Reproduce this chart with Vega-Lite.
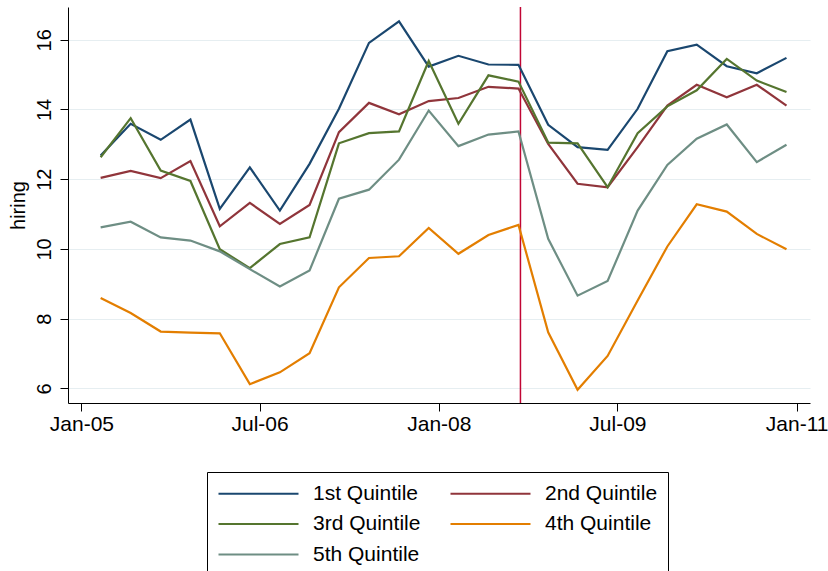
{
  "$schema": "https://vega.github.io/schema/vega-lite/v6.json",
  "width": 742,
  "height": 396,
  "autosize": "none",
  "padding": {"left": 68, "top": 7, "right": 18, "bottom": 168},
  "background": "white",
  "config": {
    "view": {"stroke": null},
    "font": "Liberation Sans",
    "axis": {
      "domainColor": "black",
      "domainWidth": 1,
      "tickColor": "black",
      "tickWidth": 1,
      "tickSize": 8,
      "labelColor": "black",
      "labelFont": "Liberation Sans",
      "titleFont": "Liberation Sans",
      "titleColor": "black",
      "titleFontWeight": "normal"
    },
    "legend": {
      "orient": "none",
      "legendX": 139,
      "legendY": 465,
      "direction": "horizontal",
      "columns": 2,
      "symbolType": "M-1,0H7",
      "symbolSize": 400,
      "symbolStrokeWidth": 2.2,
      "labelFont": "Liberation Sans",
      "labelFontSize": 21,
      "labelColor": "black",
      "labelOffset": 73,
      "columnPadding": 25,
      "rowPadding": 8.5,
      "padding": 10,
      "strokeColor": "black",
      "strokeWidth": 1,
      "fillColor": "white"
    }
  },
  "layer": [
    {
      "data": {"values": [{"date": "2008/09/07"}]},
      "mark": {"type": "rule", "color": "#c10534", "strokeWidth": 1.5},
      "encoding": {
        "x": {"field": "date", "type": "temporal"}
      }
    },
    {
      "data": {
        "values": [
          {"date": "2005/03/01", "quintile": "1st Quintile", "hiring": 12.68},
          {"date": "2005/06/01", "quintile": "1st Quintile", "hiring": 13.59},
          {"date": "2005/09/01", "quintile": "1st Quintile", "hiring": 13.13},
          {"date": "2005/12/01", "quintile": "1st Quintile", "hiring": 13.71},
          {"date": "2006/03/01", "quintile": "1st Quintile", "hiring": 11.15},
          {"date": "2006/06/01", "quintile": "1st Quintile", "hiring": 12.34},
          {"date": "2006/09/01", "quintile": "1st Quintile", "hiring": 11.10},
          {"date": "2006/12/01", "quintile": "1st Quintile", "hiring": 12.44},
          {"date": "2007/03/01", "quintile": "1st Quintile", "hiring": 14.02},
          {"date": "2007/06/01", "quintile": "1st Quintile", "hiring": 15.91},
          {"date": "2007/09/01", "quintile": "1st Quintile", "hiring": 16.53},
          {"date": "2007/12/01", "quintile": "1st Quintile", "hiring": 15.23},
          {"date": "2008/03/01", "quintile": "1st Quintile", "hiring": 15.54},
          {"date": "2008/06/01", "quintile": "1st Quintile", "hiring": 15.29},
          {"date": "2008/09/01", "quintile": "1st Quintile", "hiring": 15.28},
          {"date": "2008/12/01", "quintile": "1st Quintile", "hiring": 13.56},
          {"date": "2009/03/01", "quintile": "1st Quintile", "hiring": 12.92},
          {"date": "2009/06/01", "quintile": "1st Quintile", "hiring": 12.84},
          {"date": "2009/09/01", "quintile": "1st Quintile", "hiring": 14.02},
          {"date": "2009/12/01", "quintile": "1st Quintile", "hiring": 15.67},
          {"date": "2010/03/01", "quintile": "1st Quintile", "hiring": 15.86},
          {"date": "2010/06/01", "quintile": "1st Quintile", "hiring": 15.24},
          {"date": "2010/09/01", "quintile": "1st Quintile", "hiring": 15.04},
          {"date": "2010/12/01", "quintile": "1st Quintile", "hiring": 15.48},

          {"date": "2005/03/01", "quintile": "2nd Quintile", "hiring": 12.04},
          {"date": "2005/06/01", "quintile": "2nd Quintile", "hiring": 12.24},
          {"date": "2005/09/01", "quintile": "2nd Quintile", "hiring": 12.03},
          {"date": "2005/12/01", "quintile": "2nd Quintile", "hiring": 12.52},
          {"date": "2006/03/01", "quintile": "2nd Quintile", "hiring": 10.65},
          {"date": "2006/06/01", "quintile": "2nd Quintile", "hiring": 11.32},
          {"date": "2006/09/01", "quintile": "2nd Quintile", "hiring": 10.72},
          {"date": "2006/12/01", "quintile": "2nd Quintile", "hiring": 11.26},
          {"date": "2007/03/01", "quintile": "2nd Quintile", "hiring": 13.35},
          {"date": "2007/06/01", "quintile": "2nd Quintile", "hiring": 14.19},
          {"date": "2007/09/01", "quintile": "2nd Quintile", "hiring": 13.86},
          {"date": "2007/12/01", "quintile": "2nd Quintile", "hiring": 14.24},
          {"date": "2008/03/01", "quintile": "2nd Quintile", "hiring": 14.33},
          {"date": "2008/06/01", "quintile": "2nd Quintile", "hiring": 14.65},
          {"date": "2008/09/01", "quintile": "2nd Quintile", "hiring": 14.60},
          {"date": "2008/12/01", "quintile": "2nd Quintile", "hiring": 13.01},
          {"date": "2009/03/01", "quintile": "2nd Quintile", "hiring": 11.87},
          {"date": "2009/06/01", "quintile": "2nd Quintile", "hiring": 11.77},
          {"date": "2009/09/01", "quintile": "2nd Quintile", "hiring": 12.92},
          {"date": "2009/12/01", "quintile": "2nd Quintile", "hiring": 14.11},
          {"date": "2010/03/01", "quintile": "2nd Quintile", "hiring": 14.71},
          {"date": "2010/06/01", "quintile": "2nd Quintile", "hiring": 14.35},
          {"date": "2010/09/01", "quintile": "2nd Quintile", "hiring": 14.71},
          {"date": "2010/12/01", "quintile": "2nd Quintile", "hiring": 14.11},

          {"date": "2005/03/01", "quintile": "3rd Quintile", "hiring": 12.63},
          {"date": "2005/06/01", "quintile": "3rd Quintile", "hiring": 13.75},
          {"date": "2005/09/01", "quintile": "3rd Quintile", "hiring": 12.25},
          {"date": "2005/12/01", "quintile": "3rd Quintile", "hiring": 11.95},
          {"date": "2006/03/01", "quintile": "3rd Quintile", "hiring": 9.99},
          {"date": "2006/06/01", "quintile": "3rd Quintile", "hiring": 9.45},
          {"date": "2006/09/01", "quintile": "3rd Quintile", "hiring": 10.14},
          {"date": "2006/12/01", "quintile": "3rd Quintile", "hiring": 10.33},
          {"date": "2007/03/01", "quintile": "3rd Quintile", "hiring": 13.03},
          {"date": "2007/06/01", "quintile": "3rd Quintile", "hiring": 13.32},
          {"date": "2007/09/01", "quintile": "3rd Quintile", "hiring": 13.37},
          {"date": "2007/12/01", "quintile": "3rd Quintile", "hiring": 15.39},
          {"date": "2008/03/01", "quintile": "3rd Quintile", "hiring": 13.59},
          {"date": "2008/06/01", "quintile": "3rd Quintile", "hiring": 14.98},
          {"date": "2008/09/01", "quintile": "3rd Quintile", "hiring": 14.80},
          {"date": "2008/12/01", "quintile": "3rd Quintile", "hiring": 13.05},
          {"date": "2009/03/01", "quintile": "3rd Quintile", "hiring": 13.03},
          {"date": "2009/06/01", "quintile": "3rd Quintile", "hiring": 11.77},
          {"date": "2009/09/01", "quintile": "3rd Quintile", "hiring": 13.32},
          {"date": "2009/12/01", "quintile": "3rd Quintile", "hiring": 14.09},
          {"date": "2010/03/01", "quintile": "3rd Quintile", "hiring": 14.55},
          {"date": "2010/06/01", "quintile": "3rd Quintile", "hiring": 15.45},
          {"date": "2010/09/01", "quintile": "3rd Quintile", "hiring": 14.83},
          {"date": "2010/12/01", "quintile": "3rd Quintile", "hiring": 14.50},

          {"date": "2005/03/01", "quintile": "4th Quintile", "hiring": 8.59},
          {"date": "2005/06/01", "quintile": "4th Quintile", "hiring": 8.16},
          {"date": "2005/09/01", "quintile": "4th Quintile", "hiring": 7.63},
          {"date": "2005/12/01", "quintile": "4th Quintile", "hiring": 7.60},
          {"date": "2006/03/01", "quintile": "4th Quintile", "hiring": 7.58},
          {"date": "2006/06/01", "quintile": "4th Quintile", "hiring": 6.12},
          {"date": "2006/09/01", "quintile": "4th Quintile", "hiring": 6.46},
          {"date": "2006/12/01", "quintile": "4th Quintile", "hiring": 7.01},
          {"date": "2007/03/01", "quintile": "4th Quintile", "hiring": 8.90},
          {"date": "2007/06/01", "quintile": "4th Quintile", "hiring": 9.74},
          {"date": "2007/09/01", "quintile": "4th Quintile", "hiring": 9.79},
          {"date": "2007/12/01", "quintile": "4th Quintile", "hiring": 10.60},
          {"date": "2008/03/01", "quintile": "4th Quintile", "hiring": 9.86},
          {"date": "2008/06/01", "quintile": "4th Quintile", "hiring": 10.40},
          {"date": "2008/09/01", "quintile": "4th Quintile", "hiring": 10.69},
          {"date": "2008/12/01", "quintile": "4th Quintile", "hiring": 7.61},
          {"date": "2009/03/01", "quintile": "4th Quintile", "hiring": 5.96},
          {"date": "2009/06/01", "quintile": "4th Quintile", "hiring": 6.93},
          {"date": "2009/09/01", "quintile": "4th Quintile", "hiring": 8.52},
          {"date": "2009/12/01", "quintile": "4th Quintile", "hiring": 10.07},
          {"date": "2010/03/01", "quintile": "4th Quintile", "hiring": 11.28},
          {"date": "2010/06/01", "quintile": "4th Quintile", "hiring": 11.07},
          {"date": "2010/09/01", "quintile": "4th Quintile", "hiring": 10.43},
          {"date": "2010/12/01", "quintile": "4th Quintile", "hiring": 9.99},

          {"date": "2005/03/01", "quintile": "5th Quintile", "hiring": 10.62},
          {"date": "2005/06/01", "quintile": "5th Quintile", "hiring": 10.78},
          {"date": "2005/09/01", "quintile": "5th Quintile", "hiring": 10.33},
          {"date": "2005/12/01", "quintile": "5th Quintile", "hiring": 10.24},
          {"date": "2006/03/01", "quintile": "5th Quintile", "hiring": 9.93},
          {"date": "2006/06/01", "quintile": "5th Quintile", "hiring": 9.42},
          {"date": "2006/09/01", "quintile": "5th Quintile", "hiring": 8.92},
          {"date": "2006/12/01", "quintile": "5th Quintile", "hiring": 9.38},
          {"date": "2007/03/01", "quintile": "5th Quintile", "hiring": 11.44},
          {"date": "2007/06/01", "quintile": "5th Quintile", "hiring": 11.70},
          {"date": "2007/09/01", "quintile": "5th Quintile", "hiring": 12.56},
          {"date": "2007/12/01", "quintile": "5th Quintile", "hiring": 13.97},
          {"date": "2008/03/01", "quintile": "5th Quintile", "hiring": 12.95},
          {"date": "2008/06/01", "quintile": "5th Quintile", "hiring": 13.28},
          {"date": "2008/09/01", "quintile": "5th Quintile", "hiring": 13.37},
          {"date": "2008/12/01", "quintile": "5th Quintile", "hiring": 10.29},
          {"date": "2009/03/01", "quintile": "5th Quintile", "hiring": 8.66},
          {"date": "2009/06/01", "quintile": "5th Quintile", "hiring": 9.08},
          {"date": "2009/09/01", "quintile": "5th Quintile", "hiring": 11.10},
          {"date": "2009/12/01", "quintile": "5th Quintile", "hiring": 12.41},
          {"date": "2010/03/01", "quintile": "5th Quintile", "hiring": 13.16},
          {"date": "2010/06/01", "quintile": "5th Quintile", "hiring": 13.57},
          {"date": "2010/09/01", "quintile": "5th Quintile", "hiring": 12.49},
          {"date": "2010/12/01", "quintile": "5th Quintile", "hiring": 12.99}
        ]
      },
      "mark": {"type": "line", "strokeWidth": 2.2},
      "encoding": {
        "x": {
          "field": "date",
          "type": "temporal",
          "scale": {"domain": [{"year": 2004, "month": 11, "date": 21}, {"year": 2011, "month": 2, "date": 11}], "nice": false},
          "axis": {
            "title": null,
            "grid": false,
            "format": "%b-%y",
            "values": [
              {"year": 2005, "month": 1, "date": 1},
              {"year": 2006, "month": 7, "date": 1},
              {"year": 2008, "month": 1, "date": 1},
              {"year": 2009, "month": 7, "date": 1},
              {"year": 2011, "month": 1, "date": 1}
            ],
            "labelFontSize": 21,
            "labelPadding": 2,
            "labelOverlap": false,
            "labelFlush": false
          }
        },
        "y": {
          "field": "hiring",
          "type": "quantitative",
          "scale": {"domain": [5.58, 16.94], "nice": false, "zero": false},
          "axis": {
            "title": "hiring",
            "titleFontSize": 20,
            "titleAngle": 270,
            "titleX": -44,
            "titleY": 198,
            "titleAlign": "center",
            "titleBaseline": "alphabetic",
            "values": [6, 8, 10, 12, 14, 16],
            "labelFontSize": 20,
            "labelAngle": 270,
            "labelAlign": "center",
            "labelBaseline": "alphabetic",
            "labelPadding": 10,
            "grid": true,
            "gridColor": "#e6eef1",
            "gridWidth": 1.2
          }
        },
        "color": {
          "field": "quintile",
          "type": "nominal",
          "scale": {
            "domain": ["1st Quintile", "2nd Quintile", "3rd Quintile", "4th Quintile", "5th Quintile"],
            "range": ["#1a476f", "#90353b", "#55752f", "#e37e00", "#6e8e84"]
          },
          "legend": {"title": null}
        }
      }
    }
  ]
}
